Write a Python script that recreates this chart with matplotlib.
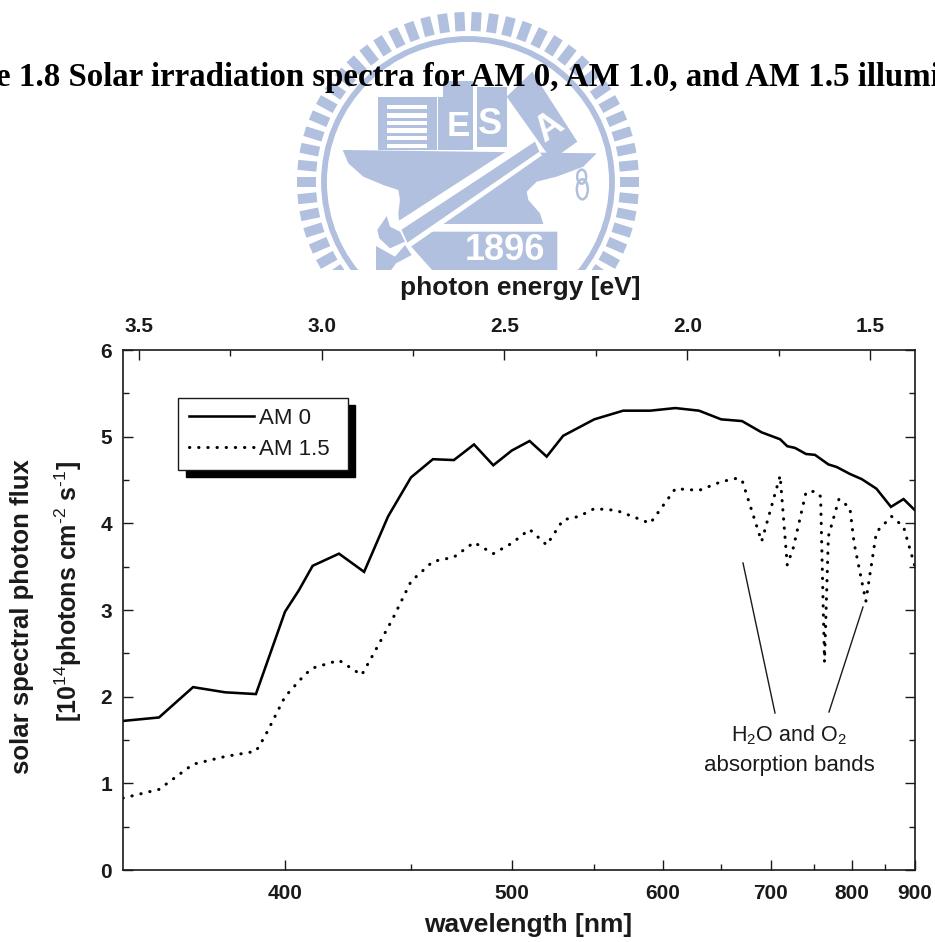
import numpy as np
import matplotlib
matplotlib.use("Agg")
import matplotlib.pyplot as plt
from matplotlib.patches import Polygon, Rectangle, Ellipse
from matplotlib.lines import Line2D
from matplotlib.collections import LineCollection
from matplotlib.transforms import Affine2D, IdentityTransform

# ---------- data ----------
am0_wavelength = [350, 360, 370, 380, 390, 400, 405, 410, 420, 430, 440, 450, 460, 470, 480,
                  490, 500, 510, 520, 530, 550, 570, 590, 610, 630, 650, 670, 690, 710, 718,
                  727, 740, 751, 768, 779, 797, 814, 836, 859, 880, 900]
am0_flux = [1.72, 1.76, 2.11, 2.05, 2.03, 2.98, 3.23, 3.51, 3.65, 3.44, 4.08, 4.53, 4.74, 4.73, 4.91,
            4.67, 4.84, 4.95, 4.77, 5.01, 5.20, 5.30, 5.30, 5.33, 5.30, 5.20, 5.18, 5.05, 4.97, 4.89,
            4.87, 4.80, 4.79, 4.68, 4.65, 4.57, 4.51, 4.40, 4.19, 4.28, 4.15]
am15_wavelength = [350, 360, 370, 380, 390, 393, 400, 407, 410, 420, 429, 433, 442, 450, 460, 470,
                   480, 490, 500, 510, 520, 530, 540, 550, 565, 575, 590, 610, 630, 650, 665, 670,
                   690, 710, 718, 725, 740, 751, 758, 763, 768, 782, 797, 803, 820, 836, 860, 880, 900]
am15_flux = [0.83, 0.93, 1.22, 1.31, 1.37, 1.54, 2.00, 2.25, 2.33, 2.42, 2.25, 2.45, 2.90, 3.33, 3.56, 3.61,
             3.78, 3.65, 3.77, 3.93, 3.75, 4.04, 4.08, 4.17, 4.15, 4.09, 4.00, 4.40, 4.38, 4.48, 4.52, 4.50,
             3.79, 4.55, 3.52, 3.72, 4.36, 4.37, 4.31, 2.40, 3.85, 4.28, 4.18, 3.77, 3.10, 3.90, 4.08, 3.96, 3.50]
wavelength_ticks = [400, 500, 600, 700, 800, 900]
wavelength_minor = [450, 550, 650, 750, 850]
energy_ticks = [3.5, 3.0, 2.5, 2.0, 1.5]
energy_labels = ["3.5", "3.0", "2.5", "2.0", "1.5"]
energy_minor = [3.25, 2.75, 2.25, 1.75]
flux_ticks = [0, 1, 2, 3, 4, 5, 6]
flux_minor = [0.5, 1.5, 2.5, 3.5, 4.5, 5.5]

W, H = 935, 942
plt.rcParams['font.family'] = ['Liberation Sans', 'DejaVu Sans']
plt.rcParams['mathtext.fontset'] = 'custom'
plt.rcParams['mathtext.rm'] = 'Liberation Sans'
plt.rcParams['mathtext.bf'] = 'Liberation Sans:bold'
plt.rcParams['mathtext.default'] = 'regular'

fig = plt.figure(figsize=(W / 100, H / 100), dpi=100, facecolor='white')
px = Affine2D().scale(1, -1).translate(0, H)   # image pixels -> display

# ---------- watermark ----------
blue = '#b0c0de'
lg = fig.add_axes([0, 0, 1, 1], zorder=0)
lg.set_xlim(0, W); lg.set_ylim(H, 0); lg.axis('off')
cx, cy = 468, 182
ang = np.linspace(0, 2 * np.pi, 62, endpoint=False)
segs = [[(cx + 152 * np.cos(a), cy + 151 * np.sin(a)), (cx + 171 * np.cos(a), cy + 170 * np.sin(a))] for a in ang]
lg.add_collection(LineCollection(segs, colors=blue, linewidths=7.2, capstyle='butt'))
lg.add_patch(Ellipse((cx, cy), 288, 286, fc='none', ec=blue, lw=4.2))


def z(pts):
    return [(290 + a / 3, b / 3) for a, b in pts]


def poly(pts, c=blue, zo=2):
    lg.add_patch(Polygon(z(pts), closed=True, fc=c, ec='none', zorder=zo))


poly([(158, 450), (920, 460), (880, 500), (800, 530), (740, 545), (710, 575), (715, 600), (750, 640), (760, 672),
      (445, 672), (330, 690), (325, 640), (330, 600), (325, 570), (280, 555), (220, 530), (175, 490)])
# buildings
poly([(265, 292), (458, 292), (458, 450), (265, 450)])
poly([(458, 243), (548, 243), (548, 450), (458, 450)])
poly([(562, 262), (652, 262), (652, 440), (562, 440)])
for yy in (315, 340, 362, 385, 408, 432):
    lg.add_patch(Rectangle((290 + 290 / 3, yy / 3), 122 / 3, 4.2, fc='white', ec='none', zorder=3))
lg.add_patch(Rectangle((290 + 440 / 3, 97), 1.8, 53, fc='white', ec='none', zorder=3))
poly([(548, 262), (560, 262), (560, 450), (548, 450)], 'white', 3)
poly([(548, 440), (655, 440), (655, 450), (548, 450)], 'white', 3)
# white hammer handle outline
poly([(318, 668), (725, 405), (740, 425), (330, 692)], 'white', 4)
poly([(350, 728), (745, 452), (756, 466), (360, 742)], 'white', 4)
poly([(335, 690), (735, 425), (748, 455), (352, 728)], blue, 4)
# hammer head
poly([(785, 480), (862, 425), (727, 215), (650, 290)], blue, 5)
# claw and lower pieces
poly([(290, 648), (262, 690), (268, 715), (300, 745), (345, 725), (330, 695), (300, 680)], blue, 5)
poly([(258, 738), (258, 812), (302, 812), (318, 790), (365, 765), (345, 735), (315, 770)], blue, 5)
# plate
poly([(410, 695), (802, 695), (802, 812), (428, 812), (362, 738)], blue, 3)
# small knot
lg.add_patch(Ellipse((290 + 875 / 3, 530 / 3), 9, 14, fc='none', ec=blue, lw=1.8, zorder=4))
lg.add_patch(Ellipse((290 + 877 / 3, 568 / 3), 11, 20, fc='none', ec=blue, lw=1.8, zorder=4))
for s, (tx, ty), fs, rot in [("E", (458, 127), 25, 0), ("S", (490, 124), 26, 0), ("A", (549, 128), 26, 35),
                             ("1896", (505, 250), 26, 0)]:
    lg.text(tx, ty, s, color='white', fontsize=fs, fontweight='bold', ha='center', va='center', rotation=rot, zorder=6)
lg.add_patch(Rectangle((0, 270), W, H - 270, fc='white', ec='none', zorder=7))

fig.text(-4, 86, "e 1.8 Solar irradiation spectra for AM 0, AM 1.0, and AM 1.5 illumi",
         family='Liberation Serif', fontweight='bold', fontsize=23.65, color='black',
         ha='left', va='baseline', transform=px, zorder=8)

# ---------- axes ----------
L, R, T, B = 123, 915, 350, 870
ax = fig.add_axes([L / W, (H - B) / H, (R - L) / W, (B - T) / H], zorder=2)
ax.set_xscale('function', functions=(lambda w: -1240.0 / np.asarray(w, float),
                                     lambda v: -1240.0 / np.asarray(v, float)))
ax.set_xlim(350, 900)
ax.set_ylim(0, 6)

ink = '#1a1a1a'
ax.plot(am0_wavelength, am0_flux, color='black', lw=1.85, label='AM 0', solid_joinstyle='miter')
ax.plot(am15_wavelength, am15_flux, color='black', lw=2.2, linestyle=(0, (0.1, 2.9)),
        dash_capstyle='round', label='AM 1.5')

ax.set_xticks(wavelength_ticks)
ax.set_xticklabels([str(v) for v in wavelength_ticks])
ax.set_xticks(wavelength_minor, minor=True)
ax.set_xticklabels([], minor=True)
ax.set_yticks(flux_ticks)
ax.set_yticks(flux_minor, minor=True)
ax.tick_params(axis='both', which='major', direction='in', length=7.5, width=1.0, color=ink,
               labelsize=15, labelcolor=ink, right=True)
ax.tick_params(axis='both', which='minor', direction='in', length=4, width=1.0, color=ink, right=True)
ax.tick_params(axis='x', which='major', pad=10)
ax.tick_params(axis='y', which='major', pad=8)
for t in ax.get_xticklabels() + ax.get_yticklabels():
    t.set_fontweight('bold')
for s in ax.spines.values():
    s.set_linewidth(1.2); s.set_color(ink)

ax2 = ax.twiny()
ax2.set_zorder(3)
ax2.patch.set_visible(False)
ax2.set_xlim(1240.0 / 350, 1240.0 / 900)
ax2.set_xticks(energy_ticks)
ax2.set_xticklabels(energy_labels, fontweight='bold')
ax2.set_xticks(energy_minor, minor=True)
ax2.tick_params(axis='x', which='major', direction='in', length=7.5, width=1.0, color=ink,
                labelsize=15, labelcolor=ink, pad=10)
ax2.tick_params(axis='x', which='minor', direction='in', length=4, width=1.0, color=ink)
for s in ax2.spines.values():
    s.set_visible(False)

lab = dict(fontsize=19, fontweight='bold', color=ink)
ax.set_xlabel("wavelength [nm]", **lab)
ax.xaxis.set_label_coords((528 - L) / (R - L), -(925 - B) / (B - T))
ax.xaxis.label.set_va('center')
ax2.set_xlabel("photon energy [eV]", **lab)
ax2.xaxis.set_label_coords((520 - L) / (R - L), 1 + (T - 288) / (B - T))
ax2.xaxis.label.set_va('center')
ax.set_ylabel("solar spectral photon flux", fontsize=18.5, fontweight='bold', color=ink)
ax.yaxis.set_label_coords((22 - L) / (R - L), (B - 617) / (B - T))
ax.yaxis.label.set_va('center')
ax.text((68 - L) / (R - L), (B - 592) / (B - T),
        r"[10$^{\mathrm{14}}$photons cm$^{\text{-2}}$ s$^{\text{-1}}$]",
        transform=ax.transAxes, rotation=90, ha='center', va='center', clip_on=False,
        fontsize=18, fontweight='bold', color=ink)

# legend
leg = ax.legend(loc='upper left', bbox_to_anchor=(178.3, H - 470, 169.5, 72), bbox_transform=IdentityTransform(),
                mode='expand', borderaxespad=0, fontsize=16, fancybox=False, framealpha=1, edgecolor=ink,
                shadow=dict(ox=5.2, oy=-5.2, color='black', alpha=1), handlelength=2.95,
                handletextpad=0.2, borderpad=0.46, labelspacing=0.43, labelcolor=ink)
leg.get_frame().set_linewidth(1.0)
leg.set_zorder(5)

# annotation
for (x0, y0), (x1, y1) in [((743, 563), (775, 713)), ((863, 607), (829, 712))]:
    fig.add_artist(Line2D([x0, x1], [y0, y1], color=ink, lw=1.0, transform=px, zorder=6))
fig.text(789, 735, "H$_2$O and O$_2$", fontsize=15.5, color=ink, ha='center', va='center', transform=px, zorder=6)
fig.text(789, 765, "absorption bands", fontsize=16, color=ink, ha='center', va='center', transform=px, zorder=6)

fig.savefig('out.png', dpi=100, facecolor='white')
